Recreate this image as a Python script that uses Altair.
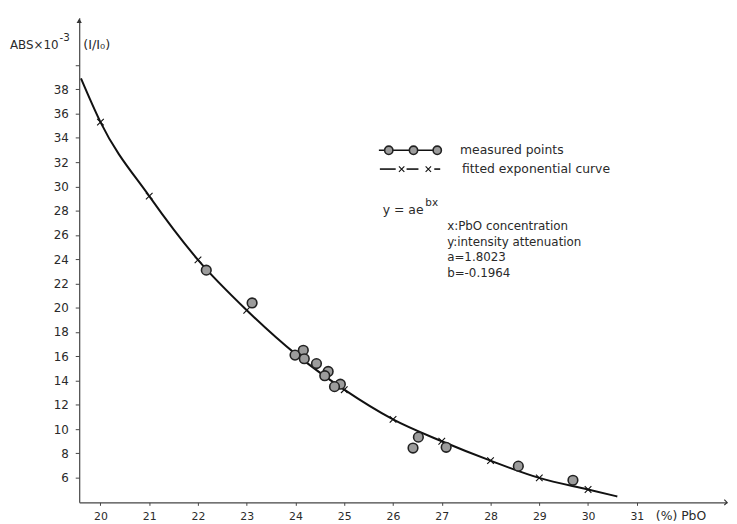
import altair as alt
import pandas as pd

# ---- data ----
curve_x = [19.6, 20, 21, 22, 23, 24, 25, 26, 27, 28, 29, 30, 30.6]
curve_y = [38.9, 35.3, 29.2, 23.95, 19.8, 16.2, 13.25, 10.8, 9.0, 7.4, 5.98, 5.02, 4.45]

cross_x = [20, 21, 22, 23, 24, 25, 26, 27, 28, 29, 30]
cross_y = [35.3, 29.2, 23.95, 19.8, 16.2, 13.25, 10.8, 9.0, 7.4, 5.98, 5.02]

meas_x = [22.17, 23.11, 23.99, 24.16, 24.18, 24.43, 24.67, 24.60, 24.92, 24.80,
          26.41, 26.52, 27.09, 28.57, 29.69]
meas_y = [23.1, 20.4, 16.1, 16.5, 15.8, 15.4, 14.75, 14.4, 13.7, 13.5,
          8.44, 9.34, 8.5, 6.95, 5.78]

x_ticks = [20, 21, 22, 23, 24, 25, 26, 27, 28, 29, 30, 31]
y_ticks = [6, 8, 10, 12, 14, 16, 18, 20, 22, 24, 26, 28, 30, 32, 34, 36, 38, 40]

legend_labels = ["measured points", "fitted exponential curve"]
note_lines = ["x:PbO concentration", "y:intensity attenuation", "a=1.8023", "b=-0.1964"]

FONT = "DejaVu Sans"
FW = "normal"
INK = "#2a2a2a"
W, H = 655, 490
X_DOM = [19.564, 32.85]
Y_DOM = [3.963, 43.9]

xs = alt.Scale(domain=X_DOM, nice=False, zero=False)
ys = alt.Scale(domain=Y_DOM, nice=False, zero=False)

curve_df = pd.DataFrame({"x": curve_x, "y": curve_y})
cross_df = pd.DataFrame({"x": cross_x, "y": cross_y})
meas_df = pd.DataFrame({"x": meas_x, "y": meas_y})

x_axis = alt.Axis(values=x_ticks, title=None, grid=False, domainColor="#444",
                  domainWidth=1.2, tickColor="#444", tickSize=3, labelFontSize=11,
                  labelFont=FONT, labelColor=INK, labelPadding=5, labelFontWeight=FW,
                  labelOverlap=False)
y_axis = alt.Axis(values=y_ticks, title=None, grid=False, domainColor="#444",
                  domainWidth=1.2, tickColor="#444", tickSize=4, labelFontSize=12,
                  labelFont=FONT, labelColor=INK, labelPadding=7, labelFontWeight=FW,
                  labelOverlap=False,
                  labelExpr="datum.value == 40 ? '' : datum.label")

curve = alt.Chart(curve_df).mark_line(interpolate="monotone", color="#111", strokeWidth=2).encode(
    x=alt.X("x:Q", scale=xs, axis=x_axis),
    y=alt.Y("y:Q", scale=ys, axis=y_axis),
)

XSHAPE = "M-1,-1L1,1M-1,1L1,-1"
crosses = alt.Chart(cross_df).mark_point(shape=XSHAPE, size=45, stroke="#111",
                                         strokeWidth=1.1, filled=False, opacity=1).encode(
    x=alt.X("x:Q", scale=xs, axis=x_axis), y=alt.Y("y:Q", scale=ys, axis=y_axis))

circles = alt.Chart(meas_df).mark_point(shape="circle", filled=True, fill="#9c9c9c",
                                        stroke="#222", strokeWidth=1.6, size=95, opacity=1).encode(
    x=alt.X("x:Q", scale=xs, axis=x_axis), y=alt.Y("y:Q", scale=ys, axis=y_axis))

# ---- legend / annotations (pixel positions inside the plot area) ----
leg_line1 = alt.Chart(pd.DataFrame({"a": [0]})).mark_rule(color="#111", strokeWidth=1.6).encode(
    x=alt.value(303), x2=alt.value(365), y=alt.value(134))
leg_circ = alt.Chart(pd.DataFrame({"px": [313, 338, 362], "py": [134, 134, 134]})).mark_point(
    shape="circle", filled=True, fill="#9c9c9c", stroke="#222", strokeWidth=1.6, size=70, opacity=1
).encode(x=alt.X("px:Q", scale=None), y=alt.Y("py:Q", scale=None))

leg_seg = alt.Chart(pd.DataFrame({"x0": [304, 331, 359], "x1": [320, 343, 365], "py": [153, 153, 153]})).mark_rule(
    color="#111", strokeWidth=1.6).encode(
    x=alt.X("x0:Q", scale=None), x2="x1:Q", y=alt.Y("py:Q", scale=None))
leg_x = alt.Chart(pd.DataFrame({"px": [326, 353], "py": [153, 153]})).mark_point(
    shape=XSHAPE, size=30, stroke="#111", strokeWidth=1.1, filled=False, opacity=1
).encode(x=alt.X("px:Q", scale=None), y=alt.Y("py:Q", scale=None))

leg_text = alt.Chart(pd.DataFrame({"t": legend_labels, "px": [385, 387], "py": [134, 153]})).mark_text(
    align="left", baseline="middle", font=FONT, fontSize=12.5, fontWeight=FW, color=INK
).encode(x=alt.X("px:Q", scale=None), y=alt.Y("py:Q", scale=None), text="t:N")

eq_main = alt.Chart(pd.DataFrame({"t": ["y = ae"]})).mark_text(
    align="left", baseline="middle", font=FONT, fontSize=12.5, fontWeight=FW, color=INK
).encode(x=alt.value(307), y=alt.value(194), text="t:N")
eq_sup = alt.Chart(pd.DataFrame({"t": ["bx"]})).mark_text(
    align="left", baseline="middle", font=FONT, fontSize=10.5, fontWeight=FW, color=INK
).encode(x=alt.value(350), y=alt.value(187), text="t:N")

notes = alt.Chart(pd.DataFrame({"t": note_lines, "py": [211, 227, 242, 258]})).mark_text(
    align="left", baseline="middle", font=FONT, fontSize=12, fontWeight=FW, color=INK
).encode(x=alt.value(372), y=alt.Y("py:Q", scale=None), text="t:N")

# axis titles
ytitle = alt.Chart(pd.DataFrame({"t": ["ABS×10"]})).mark_text(
    align="left", baseline="middle", font=FONT, fontSize=12, fontWeight=FW, color=INK
).encode(x=alt.value(-70), y=alt.value(28), text="t:N")
ytitle_sup = alt.Chart(pd.DataFrame({"t": ["-3"]})).mark_text(
    align="left", baseline="middle", font=FONT, fontSize=10.5, fontWeight=FW, color=INK
).encode(x=alt.value(-20), y=alt.value(21), text="t:N")
ytitle2 = alt.Chart(pd.DataFrame({"t": ["(I/I₀)"]})).mark_text(
    align="left", baseline="middle", font=FONT, fontSize=13, fontWeight=FW, color=INK
).encode(x=alt.value(4), y=alt.value(28), text="t:N")
xtitle = alt.Chart(pd.DataFrame({"t": ["(%) PbO"]})).mark_text(
    align="left", baseline="middle", font=FONT, fontSize=12.5, fontWeight=FW, color=INK
).encode(x=alt.value(583), y=alt.value(504), text="t:N")

# axis arrow heads
arrow_up = alt.Chart(pd.DataFrame({"a": [0]})).mark_point(
    shape="triangle-up", filled=True, fill="#333", size=28, opacity=1
).encode(x=alt.value(0), y=alt.value(3))
arrow_right = alt.Chart(pd.DataFrame({"a": [0]})).mark_point(
    shape="M-1,-1L0,0L-1,1", filled=False, stroke="#333", strokeWidth=1.2, size=30, opacity=1
).encode(x=alt.value(W), y=alt.value(H))

chart = alt.layer(
    curve, crosses, circles,
    leg_line1, leg_circ, leg_seg, leg_x, leg_text,
    eq_main, eq_sup, notes,
    ytitle, ytitle_sup, ytitle2, xtitle,
    arrow_up, arrow_right,
).properties(
    width=W, height=H,
    autosize=alt.AutoSizeParams(type="none"),
    padding={"left": 72, "top": 7, "right": 2, "bottom": 19},
    background="white",
).configure_view(stroke=None).configure_axis(labelOverlap=False)

chart.save("out.html", embed_options={"renderer": "svg", "actions": False})
